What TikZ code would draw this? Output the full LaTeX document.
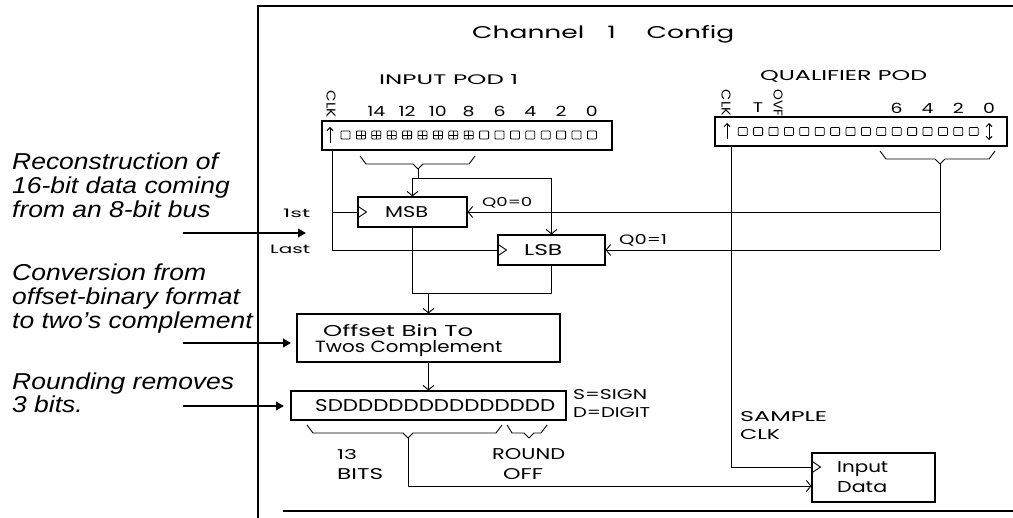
\documentclass[tikz,border=0pt]{standalone}
\usepackage{fontspec}
\usepackage{graphicx}
\usetikzlibrary{arrows.meta,calc}
\newfontfamily\plotfont{Poppins}
\newfontfamily\annfont{Liberation Sans}
\newcommand\fitt[3]{\resizebox{#1pt}{#2pt}{#3}}
\newcommand\ann[1]{\scalebox{1.15}[1]{#1}}
\newcommand\dig[1]{\scalebox{1.35}[1]{#1}}
\tikzset{
  ln/.style={line width=0.9pt, line join=round},
  frameline/.style={line width=1.3pt},
  blk/.style={draw, line width=1.1pt, inner sep=0pt, rectangle},
  arr/.style={ln, -{Straight Barb[length=4.5pt,width=11pt]}},
  big/.style={line width=2.8pt, -{Triangle[length=8pt,width=8.5pt]}},
  pl/.style={inner sep=0pt, anchor=base west, font=\plotfont},
  plc/.style={inner sep=0pt, anchor=base, font={\plotfont\fontsize{14}{14}\selectfont}},
  an/.style={inner sep=0pt, anchor=base west, font={\annfont\itshape\fontsize{23}{24}\selectfont}},
  sq/.style={line width=0.8pt, rounded corners=0.8pt},
  tick/.style={ln, -{Straight Barb[length=3pt,width=6pt]}},
}
\begin{document}
\begin{tikzpicture}[x=1pt,y=-1pt]
\useasboundingbox (0,0) rectangle (1013,518);
% frame
\draw[frameline] (1013,6) -- (258,6) -- (258,518);
\draw[frameline] (283,511) -- (1013,511);
% title
\node[pl] (title) at (472,39) {\fitt{262}{13}{Channel\hspace{0.6em} 1\hspace{0.9em} Config}};
% pods
\node[pl] (tin) at (379,85) {\fitt{139}{10}{INPUT POD 1}};
\node[pl] (tq) at (760,81) {\fitt{167}{10}{QUALIFIER POD}};
\node[blk, minimum width=290pt, minimum height=29pt] (inpod) at (467,135.5) {};
\node[blk, minimum width=292pt, minimum height=29pt] (qpod) at (861,131.5) {};
% input pod squares
\foreach \k in {0,...,16}{\draw[sq] ({345.5+15.4*\k-4.5},131) rectangle ++(9,8);}
\foreach \k in {1,...,8}{\draw[line width=0.6pt] ({345.5+15.4*\k},131) -- ++(0,8) ({345.5+15.4*\k-4.5},135) -- ++(9,0);}
\draw[tick] (330,143) -- (330,127);
\node[inner sep=0pt, font=\plotfont, rotate=-90] (clkin) at (331,104) {\fitt{27}{9}{CLK}};
\foreach \b in {14,12,10,8,6,4,2,0}{\node[plc] at ({345.5+15.4*(16-\b)},117) {\dig{\b}};}
% qualifier pod squares
\foreach \k in {0,...,15}{\draw[sq] ({742.7+15.4*\k-4.5},127.5) rectangle ++(9,8);}
\draw[tick] (727,139) -- (727,123);
\draw[ln,{Straight Barb[length=3pt,width=6pt]}-{Straight Barb[length=3pt,width=6pt]}] (989,123) -- (989,140);
\node[inner sep=0pt, font=\plotfont, rotate=-90] (clkq) at (726,103) {\fitt{26}{9}{CLK}};
\node[plc] (tT) at (758,113) {\dig{T}};
\node[inner sep=0pt, font=\plotfont, rotate=-90] (ovf) at (778,103) {\fitt{27}{9}{OVF}};
\foreach \b in {6,4,2,0}{\node[plc] at ({742.7+15.4*(16-\b)},114) {\dig{\b}};}
% braces under pods
\draw[ln] (360,156) -- (366,164) -- (413,164) -- (418,169) -- (423,164) -- (469,164) -- (475,156);
\draw[ln] (880,151) -- (886,159) -- (935,159) -- (940,164) -- (945,159) -- (989,159) -- (995,151);
\coordinate (ipTip) at (418,169);
\coordinate (ipBus) at (418,178);
\coordinate (qTip) at (940,164);
% MSB / LSB
\node[blk, minimum width=109pt, minimum height=30pt] (msb) at (412.5,212) {};
\node[blk, minimum width=107pt, minimum height=30pt] (lsb) at (551.5,250) {};
\node[pl] (tmsb) at (385,218) {\fitt{43}{11}{MSB}};
\node[pl] (tlsb) at (524,256) {\fitt{38}{11}{LSB}};
\draw[ln] (msb.west) ++(0,-6) -- ++(9,6) -- ++(-9,6);
\draw[ln] (lsb.west) ++(0,-6) -- ++(9,6) -- ++(-9,6);
\node[pl] (t1st) at (283,218) {\fitt{27}{8.5}{1st}};
\node[pl] (tlast) at (270,254) {\fitt{40}{8.5}{Last}};
\node[pl] (tq0) at (482,207) {\fitt{50}{9}{Q0=0}};
\node[pl] (tq1) at (619,245) {\fitt{48}{10}{Q0=1}};
% data bus from input pod
\draw[ln] (ipTip) -- (ipBus);
\draw[ln] (msb.north |- ipBus) -- (lsb.north |- ipBus);
\draw[arr] (msb.north |- ipBus) -- (msb.north);
\draw[arr] (lsb.north |- ipBus) -- (lsb.north);
% clock from input pod
\coordinate (ipClk) at (332,150);
\draw[ln] (ipClk) -- (ipClk |- lsb.west) -- (lsb.west);
\draw[ln] (ipClk |- msb.west) -- (msb.west);
% qualifier bus
\draw[ln] (qTip) -- (qTip |- lsb.east);
\draw[arr] (qTip |- msb.east) -- (msb.east);
\draw[arr] (qTip |- lsb.east) -- (lsb.east);
% converter
\node[blk, minimum width=263pt, minimum height=48pt] (conv) at (428.5,338) {};
\node[pl] (tc1) at (323,337) {\fitt{150}{12}{Offset Bin To}};
\node[pl] (tc2) at (315,353) {\fitt{187}{12}{Twos Complement}};
\coordinate (merge) at (428.5,293);
\draw[ln] (msb.south) -- (msb.south |- merge) -- (lsb.south |- merge) -- (lsb.south);
\draw[arr] (merge) -- (conv.north);
% word
\node[blk, minimum width=275pt, minimum height=29pt] (word) at (428.5,405.5) {};
\node[pl] (tw) at (315,412) {\fitt{240}{12}{SDDDDDDDDDDDDDDD}};
\draw[arr] (conv.south) -- (word.north);
\node[pl] (tsg) at (573,400) {\fitt{74}{10}{S=SIGN}};
\node[pl] (tdg) at (573,418) {\fitt{77}{10}{D=DIGIT}};
% braces under word
\draw[ln] (307,425) -- (313,433) -- (403,433) -- (408,438) -- (413,433) -- (496,433) -- (502,425);
\draw[ln] (507,425) -- (512,433) -- (524,433) -- (529,438) -- (534,433) -- (541,433) -- (547,425);
\coordinate (bitsTip) at (408,438);
\node[pl] (t13) at (337,460) {\fitt{20}{10}{13}};
\node[pl] (tbits) at (337,480) {\fitt{46}{11}{BITS}};
\node[pl] (tround) at (492,460) {\fitt{73}{11}{ROUND}};
\node[pl] (toff) at (503,480) {\fitt{40}{11}{OFF}};
% input data
\node[blk, minimum width=123pt, minimum height=49pt] (indata) at (873.5,477.5) {};
\node[pl] (tinp) at (837,473) {\fitt{51}{11}{Input}};
\node[pl] (tdat) at (837,493) {\fitt{50}{11}{Data}};
\coordinate (idclk) at ($(indata.west)+(0,-10.5)$);
\coordinate (iddat) at ($(indata.west)+(0,8.5)$);
\draw[ln] (idclk) ++(0,-6) -- ++(9,6) -- ++(-9,6);
\coordinate (qClk) at (731,146);
\draw[ln] (qClk) -- (qClk |- idclk) -- (idclk);
\node[pl] (tsamp) at (740,422) {\fitt{87}{10}{SAMPLE}};
\node[pl] (tsclk) at (740,440) {\fitt{40}{10}{CLK}};
\draw[arr] (bitsTip) -- (bitsTip |- iddat) -- (iddat);
% annotations
\node[an] (n1) at (12,170) {\ann{Reconstruction of}};
\node[an] (n2) at (12,194) {\ann{16-bit data coming}};
\node[an] (n3) at (12,218) {\ann{from an 8-bit bus}};
\node[an] (n4) at (12,281) {\ann{Conversion from}};
\node[an] (n5) at (12,305) {\ann{offset-binary format}};
\node[an] (n6) at (12,329) {\ann{to two’s complement}};
\node[an] (n7) at (12,390) {\ann{Rounding removes}};
\node[an] (n8) at (12,413) {\ann{3 bits.}};
\coordinate (a1s) at (183,233); \coordinate (a1e) at (306,233);
\coordinate (a2s) at (183,343); \coordinate (a2e) at (291,343);
\coordinate (a3s) at (183,406); \coordinate (a3e) at (284,406);
\draw[big] (a1s) -- (a1e);
\draw[big] (a2s) -- (a2e);
\draw[big] (a3s) -- (a3e);
\end{tikzpicture}
\end{document}
